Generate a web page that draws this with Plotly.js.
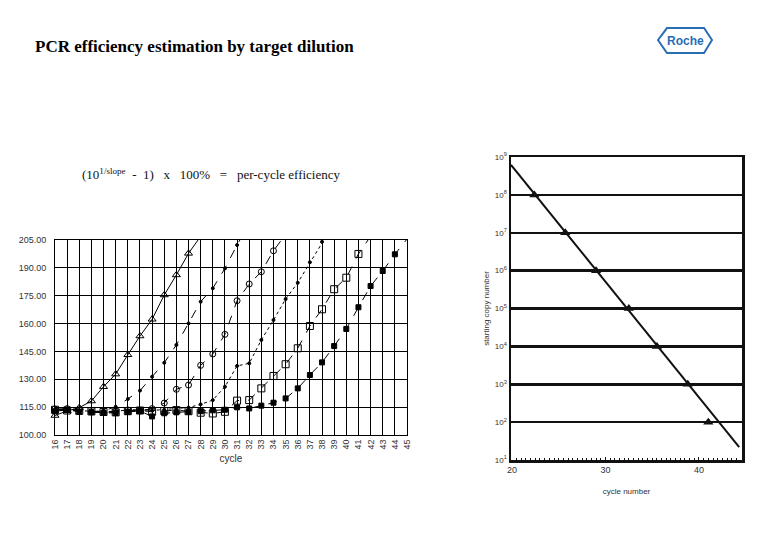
<!DOCTYPE html>
<html>
<head>
<meta charset="utf-8">
<script src="https://cdn.plot.ly/plotly-3.0.1.min.js"></script>
<style>html,body{margin:0;padding:0;background:#fff;}#chart{width:780px;height:540px;}</style>
</head>
<body>
<div id="chart"></div>
<script>
// ---- data ----
const cycles = [16,17,18,19,20,21,22,23,24,25,26,27,28,29,30,31,32,33,34,35,36,37,38,39,40,41,42,43,44,45];
const seriesA = [110.5,113,114.7,118.3,126,132.8,143.2,153.3,162.3,175.4,186.2,197.8,207];
const seriesB = [113.5,113.8,113.2,112.6,113,115.2,119.4,123.9,131.4,138.9,148.5,160.1,171.8,179,189.7,202.3,214];
const seriesC = [114,114.2,113.6,112.4,112,112.8,113.5,112.9,114.2,117.2,124.6,126.9,137.5,143.6,154.2,172.3,181.3,187.9,199.2,208];
const seriesD = [113,113.4,113.1,112.8,112.5,112.9,113.3,113.8,113.2,113.6,114.2,114.8,116.5,118.8,126,137.2,138.6,151.2,161.9,173.2,182,193,204,214];
const seriesE = [113.6,113.2,113,112.7,112.4,112.2,112.8,113.2,112.5,112.9,113.4,112.8,112,111.6,112.5,118.5,118.8,125.1,131.8,138.1,146.7,158.7,167.7,178.5,184.7,197.5,207];
const seriesF = [112.8,113.5,112.6,112.3,112,111.8,112.4,112.9,110,111.7,112.2,112.5,112.8,113.3,113.6,114.9,114.3,115.8,117.4,119.7,125.1,132.3,139.1,147.9,157.1,168.8,180.2,188.3,197.3,205.5];

const ctCycles = [22.4,25.7,29.0,32.5,35.5,38.8,41.0];
const startCopies = [1e8,1e7,1e6,1e5,1e4,1e3,1e2];
const fitCycles = [19.9,44.3];
const fitCopies = [6.2e8,22];

const logTickVals = [1e1,1e2,1e3,1e4,1e5,1e6,1e7,1e8,1e9];
const logTickText = ['10<sup>1</sup>','10<sup>2</sup>','10<sup>3</sup>','10<sup>4</sup>','10<sup>5</sup>','10<sup>6</sup>','10<sup>7</sup>','10<sup>8</sup>','10<sup>9</sup>'];

// ---- helpers ----
const W = 780, H = 540;
const px = x => x / W;
const py = y => 1 - y / H;

const styles = [
  {y: seriesA, dash: 'solid', symbol: 'triangle-up-open', size: 7},
  {y: seriesB, dash: 'dash', symbol: 'circle', size: 3},
  {y: seriesC, dash: 'dash', symbol: 'circle-open', size: 6},
  {y: seriesD, dash: 'dot', symbol: 'circle', size: 3},
  {y: seriesE, dash: 'dash', symbol: 'square-open', size: 7},
  {y: seriesF, dash: 'dash', symbol: 'square', size: 5}
];

const traces = [];
styles.forEach(s => {
  const xs = cycles.slice(0, s.y.length);
  traces.push({x: xs, y: s.y, mode: 'lines', xaxis: 'x', yaxis: 'y',
    line: {color: '#000', width: 1, dash: s.dash}, hoverinfo: 'skip', showlegend: false});
  const mx = [], my = [];
  s.y.forEach((v, i) => { if (v <= 205.6) { mx.push(xs[i]); my.push(v); } });
  traces.push({x: mx, y: my, mode: 'markers', xaxis: 'x', yaxis: 'y', cliponaxis: false,
    marker: {color: '#000', symbol: s.symbol, size: s.size, line: {color: '#000', width: 1}}, showlegend: false});
});

traces.push({x: fitCycles, y: fitCopies, mode: 'lines', xaxis: 'x2', yaxis: 'y2',
  line: {color: '#111', width: 2}, showlegend: false});
traces.push({x: ctCycles, y: startCopies, mode: 'markers', xaxis: 'x2', yaxis: 'y2', cliponaxis: false,
  marker: {color: '#111', symbol: 'triangle-up', size: 9}, showlegend: false});

const hex = [[658,40],[667,28],[704,28],[712,40],[704,53],[667,53]];
const hexPath = 'M ' + hex.map(p => px(p[0]).toFixed(4) + ',' + py(p[1]).toFixed(4)).join(' L ') + ' Z';

const layout = {
  width: W, height: H,
  margin: {l: 0, r: 0, t: 0, b: 0},
  paper_bgcolor: '#fff', plot_bgcolor: '#fff',
  font: {family: 'Liberation Sans, Arial, sans-serif', color: '#000'},
  xaxis: {
    domain: [px(55), px(407)], range: [16, 45], anchor: 'y',
    tickmode: 'array', tickvals: cycles, ticktext: cycles.map(String),
    tickangle: -90, tickfont: {size: 9, color: '#333'},
    showgrid: true, gridcolor: '#000', gridwidth: 1, zeroline: false,
    showline: true, linecolor: '#000', linewidth: 1, mirror: true, ticks: '',
    title: {text: 'cycle', font: {size: 10, color: '#333'}, standoff: 6}
  },
  yaxis: {
    domain: [py(435), py(240)], range: [100, 205], anchor: 'x',
    tickmode: 'array', tickvals: [100,115,130,145,160,175,190,205], tickformat: '.2f',
    tickfont: {size: 9, color: '#333'},
    showgrid: true, gridcolor: '#000', gridwidth: 1, zeroline: false,
    showline: true, linecolor: '#000', linewidth: 1, mirror: true, ticks: '', ticklabelstandoff: 6
  },
  xaxis2: {
    domain: [px(511), px(742)], range: [19.9, 44.6], anchor: 'y2',
    tickmode: 'array', tickvals: [20, 30, 40], tickfont: {size: 9, color: '#333'},
    showgrid: false, zeroline: false,
    showline: true, linecolor: '#111', linewidth: 2.5, mirror: true,
    ticks: 'inside', ticklen: 3, tickwidth: 1, tickcolor: '#111',
    minor: {dtick: 0.5, ticks: 'inside', ticklen: 2, tickcolor: '#111', showgrid: false},
    title: {text: 'cycle number', font: {size: 8, color: '#333'}, standoff: 14}
  },
  yaxis2: {
    domain: [py(460), py(157)], type: 'log', range: [1, 9], anchor: 'x2',
    tickmode: 'array', tickvals: logTickVals, ticktext: logTickText,
    tickfont: {size: 8, color: '#333'},
    showgrid: true, gridcolor: '#111', gridwidth: 2.5, zeroline: false,
    showline: true, linecolor: '#111', linewidth: 2.5, mirror: true, ticks: '',
    title: {text: 'starting copy number', font: {size: 8, color: '#333'}, standoff: 4}
  },
  shapes: [
    {type: 'path', xref: 'paper', yref: 'paper', path: hexPath, line: {color: '#2a6db3', width: 2}}
  ],
  annotations: [
    {xref: 'paper', yref: 'paper', x: px(33), y: py(47), xanchor: 'left', yanchor: 'middle', showarrow: false,
     text: 'PCR efficiency estimation by target dilution',
     font: {family: 'Liberation Serif, DejaVu Serif, serif', size: 17, color: '#000', weight: 'bold'}},
    {xref: 'paper', yref: 'paper', x: px(685), y: py(41), xanchor: 'center', yanchor: 'middle', showarrow: false,
     text: 'Roche', font: {family: 'Liberation Sans, Arial, sans-serif', size: 12, color: '#2a6db3', weight: 'bold'}},
    {xref: 'paper', yref: 'paper', x: px(80), y: py(174), xanchor: 'left', yanchor: 'middle', showarrow: false,
     text: '(10<sup>1/slope</sup>&nbsp; - &nbsp;1) &nbsp; x &nbsp; 100% &nbsp; = &nbsp; per-cycle efficiency',
     font: {family: 'Liberation Serif, DejaVu Serif, serif', size: 13, color: '#111'}}
  ]
};

Plotly.newPlot('chart', traces, layout, {displayModeBar: false, staticPlot: true});
</script>
</body>
</html>
